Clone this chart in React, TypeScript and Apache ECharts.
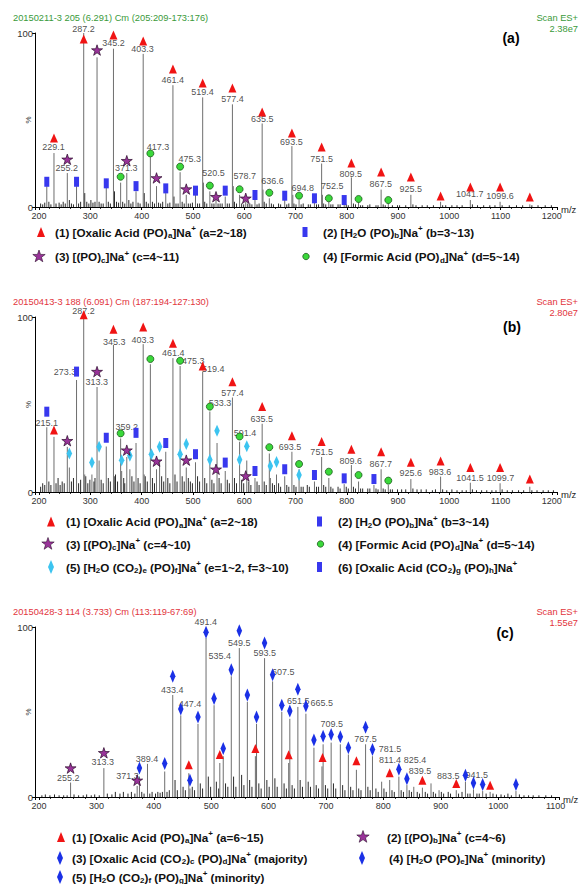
import React, { useEffect, useRef } from 'react';
import * as echarts from 'echarts';

const FONT = '"Liberation Sans", Arial, Helvetica, sans-serif';

// ---------------- Panel (a) ----------------
const PEAKS_A: number[][] = [
  [215, 12], [229, 31], [255, 19.5], [273, 12], [287, 100], [313, 86], [331, 11], [345, 91], [359, 14], [371, 19.5],
  [389, 9], [403, 88], [417, 28.7], [429, 12], [447, 8], [461, 70], [475, 20], [487, 7], [505, 7], [519, 63],
  [520.5, 14], [533, 9], [545, 4], [563, 6], [577, 59], [578.7, 12], [591, 7], [603, 3], [621, 4], [635, 48],
  [636.6, 10], [649, 5], [679, 4], [693, 35], [694.8, 7], [707, 4], [737, 3], [751, 25], [752.5, 7], [765, 3],
  [795, 2.5], [809, 17], [823, 3], [867, 10], [881, 2.5], [925, 7], [983, 3], [1041, 4], [1099, 3], [1157, 1.5],
];
const NOISE_A: number[][] = [
  [203, 2], [207, 1.5], [211, 2.5], [219, 3], [223, 1.5], [233, 2], [239, 2.5], [243, 1.5], [247, 3], [251, 2],
  [259, 4], [263, 2], [267, 1.5], [277, 2], [281, 3], [289, 8], [293, 3], [297, 2], [301, 4], [305, 2.5],
  [309, 3], [317, 3], [321, 2], [325, 2], [335, 3], [339, 2], [347, 9], [351, 3], [355, 2.5], [363, 3],
  [367, 2], [375, 4], [379, 2], [383, 3], [393, 2.5], [397, 2], [405, 8], [409, 3], [413, 2], [421, 3],
  [425, 2], [433, 2.5], [437, 2], [441, 3], [451, 2], [455, 2.5], [463, 6], [467, 2], [471, 2], [479, 3],
  [483, 2], [491, 2], [495, 2], [499, 2.5], [509, 2], [513, 2], [523, 3], [527, 2], [537, 2], [541, 2],
  [549, 2], [553, 2], [557, 2], [567, 2], [571, 2], [581, 3], [585, 2], [595, 2], [599, 1.5], [607, 2],
  [611, 2], [615, 1.5], [625, 1.5], [629, 2], [639, 3], [643, 2], [653, 2], [657, 1.5], [667, 2], [671, 1.5],
  [683, 1.5], [687, 2], [697, 2], [701, 1.5], [711, 1.5], [715, 2], [725, 1.5], [729, 1.5], [741, 1.5], [745, 1.5],
  [755, 2], [759, 1.5], [769, 1.5], [773, 1.5], [783, 1.5], [787, 1.5], [799, 1.5], [803, 1], [813, 2], [817, 1.5],
  [827, 1], [831, 1], [841, 1], [845, 1.5], [857, 1], [861, 1], [871, 1.5], [875, 1], [889, 1], [899, 1],
  [903, 1], [915, 1], [929, 1.5], [935, 1], [947, 1], [957, 1], [969, 1], [987, 1], [993, 1], [1005, 1],
  [1015, 1], [1025, 1], [1045, 1.5], [1055, 1], [1067, 1], [1079, 1], [1089, 1], [1103, 1], [1117, 1], [1131, 1],
  [1143, 1], [1161, 1], [1173, 1], [1187, 1], [1199, 1],
];
const TRI_A: number[][] = [
  [229, 39.7], [287, 96.6], [345, 98.9], [403, 95.4], [461, 79.3], [519, 71.3], [577, 68.4], [635, 54.6], [693, 42.5],
  [751, 34.5], [809, 25.3], [867, 20.1], [925, 17.2], [983, 6.3], [1041, 11.5], [1099, 11.5], [1157, 5.7],
];
const STAR_A: number[][] = [[255, 27.4], [313, 90.2], [371, 26.6], [429, 16.7], [487, 10.3], [545, 5.9], [603, 5]];
const CIRC_A: number[][] = [
  [359, 17.4], [417, 30.8], [475, 23.2], [533, 12.3], [591, 10.2], [649, 8.2], [707, 6.5], [765, 5], [823, 4.6], [881, 4],
];
const RECT_A: number[][] = [
  [215, 14.5], [273, 14.5], [331, 13.6], [389, 12], [447, 10.7], [505, 9.4], [563, 9.4], [621, 6.9], [679, 6.5], [737, 5], [795, 4],
];
const LABELS_A: [string, number, number][] = [
  ['229.1', 228, 34.5], ['255.2', 254, 22.2], ['287.2', 286.5, 102.3], ['345.2', 345, 94], ['371.3', 370, 22.2],
  ['403.3', 401.5, 90.6], ['417.3', 432, 34.5], ['461.4', 460.5, 73], ['475.3', 494, 27.6], ['519.4', 518.5, 66.3],
  ['520.5', 540, 19.4], ['577.4', 577, 61.9], ['578.7', 601, 17.8], ['635.5', 635, 50.4], ['636.6', 655, 14.9],
  ['693.5', 692, 37.5], ['694.8', 714, 10.7], ['751.5', 751, 27.6], ['752.5', 771.5, 12.2], ['809.5', 808, 19],
  ['867.5', 866.5, 13], ['925.5', 925, 10.2], ['1041.7', 1040, 7.3], ['1099.6', 1099, 6.3],
];

// ---------------- Panel (b) ----------------
const PEAKS_B: number[][] = [
  [215, 37], [229, 31.5], [255, 25.8], [259, 14], [273, 64], [287, 100], [289, 10], [303, 10], [313, 60], [317, 18],
  [331, 26], [345, 84], [347, 9], [359, 30.6], [361, 12], [371, 20], [377, 13], [389, 28], [403, 84.5], [405, 10],
  [417, 73], [429, 13], [435, 18], [447, 23], [461, 76.5], [475, 72], [487, 14], [505, 17], [519, 68.8], [533, 46],
  [547, 28], [563, 12], [577, 54], [591, 28.7], [605, 18], [621, 8], [635, 39], [649, 22], [651, 8], [663, 10],
  [679, 9], [693, 23], [707, 13], [737, 6], [751, 20], [765, 8], [795, 4.5], [809, 15.4], [823, 6], [853, 4],
  [867, 13], [881, 4], [925, 7.4], [983, 8.8], [1041, 5.3], [1099, 5], [1157, 3],
];
const NOISE_B: number[][] = [
  [203, 3], [207, 5], [211, 4], [219, 6], [223, 4], [233, 5], [237, 8], [241, 4], [245, 6], [249, 5],
  [263, 6], [267, 8], [277, 5], [281, 7], [291, 9], [295, 5], [299, 7], [307, 6], [309, 8], [321, 7],
  [325, 5], [335, 8], [339, 6], [349, 10], [353, 6], [365, 8], [367, 5], [381, 9], [385, 6], [393, 8],
  [397, 5], [407, 9], [411, 6], [421, 8], [425, 5], [439, 9], [443, 6], [451, 8], [455, 5], [465, 10],
  [469, 6], [479, 9], [483, 6], [491, 8], [495, 6], [499, 5], [509, 9], [513, 6], [523, 8], [527, 5],
  [537, 7], [541, 5], [551, 8], [555, 5], [567, 7], [571, 5], [581, 8], [585, 5], [595, 7], [599, 5],
  [609, 6], [613, 4], [625, 6], [629, 4], [639, 6], [643, 4], [655, 5], [659, 4], [667, 5], [671, 3],
  [683, 4], [687, 3], [697, 4], [701, 3], [711, 3], [715, 3], [723, 4], [727, 3], [741, 3], [745, 3],
  [755, 4], [759, 3], [769, 3], [773, 2], [783, 3], [787, 2], [799, 3], [803, 2], [813, 3], [817, 2],
  [827, 2], [831, 2], [841, 2], [845, 2], [857, 2], [861, 1.5], [871, 2], [875, 1.5], [885, 1.5], [889, 1.5],
  [899, 1.5], [907, 1.5], [915, 1.5], [929, 2], [937, 1.5], [945, 1.5], [955, 1.5], [967, 1], [973, 1.5], [987, 1.5],
  [995, 1], [1005, 1.5], [1015, 1], [1025, 1], [1033, 1], [1045, 1.5], [1053, 1], [1063, 1], [1073, 1], [1083, 1],
  [1091, 1], [1103, 1.5], [1113, 1], [1123, 1], [1135, 1], [1145, 1], [1161, 1], [1171, 1], [1183, 1], [1193, 1], [1203, 1],
];
const TRI_B: number[][] = [
  [229, 35.4], [287, 101.3], [345, 93], [403, 94.3], [461, 85], [519, 72], [577, 63], [635, 48.8], [693, 32.2],
  [751, 28.8], [809, 24.4], [867, 23], [925, 17], [983, 17.7], [1041, 14], [1099, 14], [1157, 7.4],
];
const STAR_B: number[][] = [[255, 29.3], [313, 68.8], [371, 23.9], [429, 17.6], [487, 18.2], [545, 13], [603, 9.2]];
const CIRC_B: number[][] = [
  [359, 33.5], [417, 76], [475, 75], [533, 48.8], [591, 31.7], [649, 25.6], [707, 16], [765, 11.6], [823, 9.7], [881, 6.5],
];
const RECT_B: number[][] = [
  [215, 45.9], [273, 68.8], [331, 31], [389, 33.8], [447, 28], [505, 21.6], [563, 16.8], [621, 12], [679, 13],
  [737, 9.7], [795, 7.8], [853, 7.4],
];
const DIA_B: number[][] = [
  [259, 22], [303, 16.8], [317, 25.8], [361, 18.2], [377, 20.7], [419, 21.6], [435, 25.8], [475, 21.6], [487, 27.5],
  [533, 18.5], [547, 35], [591, 18.5], [605, 26.2], [651, 14.9], [663, 17.2], [707, 9.7],
];
const LABELS_B: [string, number, number][] = [
  ['215.1', 215, 39.6], ['273.3', 250.5, 68.8], ['287.2', 286.5, 103.3], ['313.3', 312.5, 63.1], ['345.3', 346.5, 86],
  ['359.2', 371, 37.3], ['403.3', 402, 87], ['461.4', 461.5, 79.3], ['475.3', 500.5, 75], ['519.4', 539.5, 70.4],
  ['533.3', 553, 50.7], ['577.4', 577, 56.4], ['591.4', 601.5, 33.5], ['635.5', 634, 42], ['693.5', 689.5, 25.9],
  ['751.5', 751, 22.7], ['809.6', 808, 17.9], ['867.7', 866.5, 16], ['925.6', 925, 10.7], ['983.6', 982, 11.2],
  ['1041.5', 1040.5, 7.8], ['1099.7', 1100, 7.8],
];

// ---------------- Panel (c) ----------------
const PEAKS_C: number[][] = [
  [255, 8.5], [313, 17], [371, 6.5], [375, 12], [389, 19.5], [419, 15], [433, 60], [447, 48], [461, 14], [463, 5],
  [477, 43], [491, 93.5], [505, 54], [515, 20], [521, 24], [535, 71], [549, 87.6], [563, 56], [577, 24], [579, 43],
  [593, 81.7], [607, 68], [623, 50], [635, 20], [637, 46], [651, 53], [665, 49], [679, 29], [693, 18], [695, 31],
  [709, 32], [725, 31], [739, 25], [753, 16], [769, 31], [781, 24], [797, 9], [811, 10], [827, 12], [841, 7],
  [853, 6], [868, 5.5], [883, 8], [897, 4], [927, 4], [943, 9], [957, 4.5], [973, 3.5], [986, 3], [1031, 3.5],
];
const NOISE_C: number[][] = [
  [205, 1], [211, 1.5], [219, 1], [227, 1.5], [235, 1], [243, 1], [249, 1], [261, 1.5], [269, 1], [277, 1],
  [283, 1.5], [291, 1], [297, 1.5], [305, 1], [319, 2], [327, 1.5], [333, 3], [341, 2], [347, 3], [355, 2],
  [361, 3], [367, 2], [379, 3], [383, 2], [393, 2], [397, 3], [403, 2], [407, 3], [411, 2.5], [415, 3],
  [423, 3], [427, 4], [437, 10], [441, 4], [451, 6], [455, 4], [467, 6], [471, 4], [481, 8], [485, 5],
  [495, 12], [499, 6], [509, 9], [513, 5], [525, 8], [529, 6], [539, 12], [543, 6], [553, 13], [557, 7],
  [567, 10], [571, 6], [583, 8], [587, 5], [597, 10], [601, 6], [611, 11], [615, 6], [627, 8], [631, 5],
  [641, 7], [645, 5], [655, 10], [659, 6], [669, 9], [673, 6], [683, 7], [687, 5], [699, 7], [703, 5],
  [713, 8], [717, 5], [729, 7], [733, 4], [743, 6], [747, 4], [757, 5], [761, 4], [773, 6], [777, 4],
  [787, 5], [791, 3], [801, 5], [805, 3], [815, 4], [819, 3], [831, 4], [835, 3], [845, 4], [849, 3],
  [859, 3], [863, 2], [873, 3], [877, 2], [887, 3], [891, 2], [901, 3], [905, 2], [913, 3], [917, 2],
  [931, 2], [937, 3], [947, 2], [951, 2], [963, 2], [967, 2], [979, 2], [991, 2], [997, 1.5], [1005, 1.5],
  [1011, 1], [1017, 2], [1023, 1], [1037, 1.5], [1045, 1], [1053, 1], [1061, 1], [1071, 1], [1083, 1], [1093, 1],
];
const TRI_C: number[][] = [
  [461, 19], [515, 25], [577, 28.5], [635, 24.8], [694, 23.2], [753, 21.3], [811, 14.2], [868, 9.8], [927, 7.9], [986, 6.9],
];
const STAR_C: number[][] = [[255, 17], [313, 26], [371, 9.8]];
const DIA_C: number[][] = [
  [375, 17], [419, 19.7], [433, 71], [447, 51.8], [463, 9.8], [477, 47], [491, 96.9], [505, 58], [521, 28.5],
  [535, 74.8], [549, 97.8], [563, 60], [579, 47], [593, 90.6], [607, 71.9], [623, 54], [637, 50.6], [651, 63.4],
  [665, 53.5], [679, 33.5], [695, 35.8], [709, 36.8], [725, 35.4], [739, 29], [769, 41], [781, 28], [827, 16.3],
  [841, 10.8], [943, 12.8], [957, 8.3], [973, 7.3], [1031, 7.3],
];
const LABELS_C: [string, number, number][] = [
  ['255.2', 251, 11.4], ['313.3', 311, 20.7], ['371.3', 354, 12.4], ['389.4', 388, 22.6], ['433.4', 432, 63],
  ['447.4', 463, 54.5], ['491.4', 490.5, 102.8], ['535.4', 515, 82.7], ['549.5', 549, 90.6], ['593.5', 593.5, 84.6],
  ['607.5', 625.5, 73.4], ['651.5', 651.5, 56.5], ['665.5', 692.5, 55.1], ['709.5', 710, 42.7], ['767.5', 769, 33.9],
  ['781.5', 811.5, 28.1], ['811.4', 811.5, 21.7], ['825.4', 855, 22], ['839.5', 864, 15.4], ['883.5', 913, 12.2],
  ['941.5', 962.5, 13.2],
];

// ---------------- Texts ----------------
const HEADERS = [
  '20150211-3 205 (6.291) Cm (205:209-173:176)',
  '20150413-3 188 (6.091) Cm (187:194-127:130)',
  '20150428-3 114 (3.733) Cm (113:119-67:69)',
];
const SCAN_VALUES = ['2.38e7', '2.80e7', '1.55e7'];
const PANEL_TAGS = ['(a)', '(b)', '(c)'];
const X_RANGES = [[192, 1210], [192, 1210], [193, 1106]];

const LEGEND_A = [
  '{n|(1) [Oxalic Acid (PO)}{s|a}{n|]Na}{p|+}{n| (a=2~18)}',
  '{n|(2) [H}{s|2}{n|O (PO)}{s|b}{n|]Na}{p|+}{n| (b=3~13)}',
  '{n|(3) [(PO)}{s|c}{n|]Na}{p|+}{n| (c=4~11)}',
  '{n|(4) [Formic Acid (PO)}{s|d}{n|]Na}{p|+}{n| (d=5~14)}',
];
const LEGEND_B = [
  '{n|(1) [Oxalic Acid (PO)}{s|a}{n|]Na}{p|+}{n| (a=2~18)}',
  '{n|(2) [H}{s|2}{n|O (PO)}{s|b}{n|]Na}{p|+}{n| (b=3~14)}',
  '{n|(3) [(PO)}{s|c}{n|]Na}{p|+}{n| (c=4~10)}',
  '{n|(4) [Formic Acid (PO)}{s|d}{n|]Na}{p|+}{n| (d=5~14)}',
  '{n|(5) [H}{s|2}{n|O (CO}{s|2}{n|)}{s|e}{n| (PO)}{s|f}{n|]Na}{p|+}{n| (e=1~2, f=3~10)}',
  '{n|(6) [Oxalic Acid (CO}{s|2}{n|)}{s|g}{n| (PO)}{s|h}{n|]Na}{p|+}',
];
const LEGEND_C = [
  '{n|(1) [Oxalic Acid (PO)}{s|a}{n|]Na}{p|+}{n| (a=6~15)}',
  '{n|(2) [(PO)}{s|b}{n|]Na}{p|+}{n| (c=4~6)}',
  '{n|(3) [Oxalic Acid (CO}{s|2}{n|)}{s|c}{n| (PO)}{s|d}{n|]Na}{p|+}{n| (majority)}',
  '{n|(4) [H}{s|2}{n|O (PO)}{s|e}{n|]Na}{p|+}{n| (minority)}',
  '{n|(5) [H}{s|2}{n|O (CO}{s|2}{n|)}{s|f}{n| (PO)}{s|g}{n|]Na}{p|+}{n| (minority)}',
];

// ---------------- Styles ----------------
const GREEN_HDR = '#3a9a3a';
const RED_HDR = '#e2343c';
const C_TRI = '#f01414';
const C_RECT = '#3838ee';
const C_STAR = '#993399';
const C_STAR_B = '#2a0a2a';
const C_CIRC = '#3ad83a';
const C_CIRC_B = '#1d5a1d';
const C_DIA_B = '#3cc4f0';
const C_DIA_C = '#1a30e6';
const STAR_PATH =
  'path://M0,-10L2.25,-3.09L9.51,-3.09L3.63,1.18L5.88,8.09L0,3.82L-5.88,8.09L-3.63,1.18L-9.51,-3.09L-2.25,-3.09Z';

function starPts(cx: number, cy: number, R: number, r: number) {
  const pts: number[][] = [];
  for (let i = 0; i < 10; i++) {
    const a = -Math.PI / 2 + (i * Math.PI) / 5;
    const rad = i % 2 === 0 ? R : r;
    pts.push([cx + rad * Math.cos(a), cy + rad * Math.sin(a)]);
  }
  return pts;
}

function icon(kind: string, cx: number, cy: number, color?: string): any {
  if (kind === 'tri')
    return { type: 'polygon', silent: true, shape: { points: [[cx, cy - 5], [cx + 4, cy + 5], [cx - 4, cy + 5]] }, style: { fill: C_TRI } };
  if (kind === 'rect')
    return { type: 'rect', silent: true, shape: { x: cx - 2.5, y: cy - 5, width: 5, height: 10 }, style: { fill: C_RECT } };
  if (kind === 'star')
    return { type: 'polygon', silent: true, shape: { points: starPts(cx, cy, 6.5, 2.6) }, style: { fill: C_STAR, stroke: C_STAR_B, lineWidth: 0.6 } };
  if (kind === 'circ')
    return { type: 'circle', silent: true, shape: { cx, cy, r: 3.2 }, style: { fill: C_CIRC, stroke: C_CIRC_B, lineWidth: 0.8 } };
  return { type: 'polygon', silent: true, shape: { points: [[cx, cy - 7], [cx + 3, cy], [cx, cy + 7], [cx - 3, cy]] }, style: { fill: color || C_DIA_C } };
}

const RICH = {
  n: { fontSize: 11.7, fontWeight: 'bold', fontFamily: FONT, fill: '#111', color: '#111', lineHeight: 15 },
  s: { fontSize: 8, fontWeight: 'bold', fontFamily: FONT, fill: '#111', color: '#111', verticalAlign: 'bottom' },
  p: { fontSize: 8, fontWeight: 'bold', fontFamily: FONT, fill: '#111', color: '#111', verticalAlign: 'top' },
};

function legendText(x: number, y: number, text: string): any {
  return { type: 'text', silent: true, x, y, style: { text, rich: RICH, align: 'left', verticalAlign: 'middle', textAlign: 'left', textVerticalAlign: 'middle' } };
}

function plainText(x: number, y: number, text: string, size: number, fill: string, align: string, bold?: boolean, rotation?: number): any {
  return {
    type: 'text', silent: true, x, y, rotation: rotation || 0,
    style: { text, fill, fontSize: size, fontFamily: FONT, fontWeight: bold ? 'bold' : 'normal', align, verticalAlign: 'middle', textAlign: align, textVerticalAlign: 'middle' },
  };
}

function buildOption(): any {
  const gridBoxes = [
    { left: 35, top: 33, width: 522, height: 174 },
    { left: 35, top: 317, width: 522, height: 175 },
    { left: 35, top: 627, width: 524, height: 170 },
  ];
  const grids = gridBoxes.map((g) => ({ ...g, containLabel: false, outerBoundsMode: 'none' }));

  const xAxis = X_RANGES.map(([min, max], i) => ({
    type: 'value', gridIndex: i, min, max, splitNumber: 10,
    axisLine: { show: true, onZero: false, lineStyle: { color: '#000', width: 1 } },
    axisTick: { show: true, length: 3, lineStyle: { color: '#000', width: 1 } },
    minorTick: { show: true, splitNumber: 5, length: 2, lineStyle: { color: '#000', width: 0.8 } },
    axisLabel: {
      fontSize: 9, color: '#333', margin: 4, fontFamily: FONT,
      formatter: (v: number) => (Math.abs(v % 100) < 1e-6 ? String(v) : ''),
    },
    splitLine: { show: false }, minorSplitLine: { show: false },
  }));

  const yAxis = [0, 1, 2].map((i) => ({
    type: 'value', gridIndex: i, min: 0, max: 100, interval: 100,
    axisLine: { show: true, lineStyle: { color: '#000', width: 1 } },
    axisTick: { show: true, length: 3, lineStyle: { color: '#000', width: 1 } },
    axisLabel: { fontSize: 9.5, color: '#333', margin: 2, fontFamily: FONT },
    splitLine: { show: false },
  }));

  const peakSeries = (idx: number, data: number[][], color: string) => ({
    type: 'custom', xAxisIndex: idx, yAxisIndex: idx, data, encode: { x: 0, y: 1 }, z: 1, silent: true,
    renderItem: (_p: any, api: any) => {
      const x = api.value(0);
      const y = api.value(1);
      const a = api.coord([x, 0]);
      const b = api.coord([x, y]);
      return { type: 'line', shape: { x1: a[0], y1: a[1], x2: b[0], y2: b[1] }, style: { stroke: color, lineWidth: 1 } };
    },
  });

  const markSeries = (idx: number, data: number[][], symbol: string, size: any, color: string, border?: string, bw?: number) => ({
    type: 'scatter', xAxisIndex: idx, yAxisIndex: idx, data, symbol, symbolSize: size, clip: false, z: 4, silent: true,
    itemStyle: { color, borderColor: border || color, borderWidth: bw || 0, opacity: 1 },
    emphasis: { disabled: true },
  });

  const labelSeries = (idx: number, labels: [string, number, number][]) => ({
    type: 'scatter', xAxisIndex: idx, yAxisIndex: idx, symbolSize: 1, clip: false, z: 3, silent: true,
    data: labels.map(([t, x, y]) => ({ name: t, value: [x, y] })),
    itemStyle: { color: 'rgba(0,0,0,0)' },
    label: { show: true, position: 'inside', formatter: '{b}', fontSize: 9, color: '#222', fontFamily: FONT },
    emphasis: { disabled: true },
  });

  const series: any[] = [
    peakSeries(0, NOISE_A, '#2a2a2a'), peakSeries(0, PEAKS_A, '#6e6e6e'),
    labelSeries(0, LABELS_A),
    markSeries(0, RECT_A, 'rect', [5, 10], C_RECT),
    markSeries(0, CIRC_A, 'circle', 7, C_CIRC, C_CIRC_B, 0.8),
    markSeries(0, STAR_A, STAR_PATH, [11, 10.5], C_STAR, C_STAR_B, 0.7),
    markSeries(0, TRI_A, 'triangle', [8, 9], C_TRI),

    peakSeries(1, NOISE_B, '#2a2a2a'), peakSeries(1, PEAKS_B, '#6e6e6e'),
    labelSeries(1, LABELS_B),
    markSeries(1, DIA_B, 'diamond', [5.5, 12], C_DIA_B),
    markSeries(1, RECT_B, 'rect', [5, 10], C_RECT),
    markSeries(1, CIRC_B, 'circle', 7, C_CIRC, C_CIRC_B, 0.8),
    markSeries(1, STAR_B, STAR_PATH, [11, 10.5], C_STAR, C_STAR_B, 0.7),
    markSeries(1, TRI_B, 'triangle', [8, 9], C_TRI),

    peakSeries(2, NOISE_C, '#2a2a2a'), peakSeries(2, PEAKS_C, '#6e6e6e'),
    labelSeries(2, LABELS_C),
    markSeries(2, DIA_C, 'diamond', [5.5, 13], C_DIA_C),
    markSeries(2, STAR_C, STAR_PATH, [11, 10.5], C_STAR, C_STAR_B, 0.7),
    markSeries(2, TRI_C, 'triangle', [8, 9], C_TRI),
  ];

  const G: any[] = [];
  const hdrY = [18, 302, 612];
  const hdrCol = [GREEN_HDR, RED_HDR, RED_HDR];
  const tagPos = [[511, 38], [512, 327], [505, 633]];
  for (let i = 0; i < 3; i++) {
    const g = gridBoxes[i];
    G.push(plainText(13, hdrY[i], HEADERS[i], 9.3, hdrCol[i], 'left'));
    G.push(plainText(578, hdrY[i], 'Scan ES+', 9.3, hdrCol[i], 'right'));
    G.push(plainText(578, hdrY[i] + 11, SCAN_VALUES[i], 9.3, hdrCol[i], 'right'));
    G.push(plainText(tagPos[i][0], tagPos[i][1], PANEL_TAGS[i], 14, '#000', 'center', true));
    // axis titles
    G.push(plainText(g.left + g.width + 4, g.top + g.height + 2, 'm/z', 9.5, '#222', 'left'));
    G.push(plainText(g.left - 7, g.top + g.height / 2, '%', 8, '#333', 'center', false, Math.PI / 2));
  }
  // legend (a)
  G.push(icon('tri', 41, 232), legendText(55, 232, LEGEND_A[0]));
  G.push(icon('rect', 305, 232), legendText(323, 232, LEGEND_A[1]));
  G.push(icon('star', 39, 256.5), legendText(55, 256.5, LEGEND_A[2]));
  G.push(icon('circ', 306, 256.5), legendText(323, 256.5, LEGEND_A[3]));
  // legend (b)
  G.push(icon('tri', 51, 521.5), legendText(66, 521.5, LEGEND_B[0]));
  G.push(icon('rect', 319.5, 521.5), legendText(338, 521.5, LEGEND_B[1]));
  G.push(icon('star', 48, 544), legendText(66, 544, LEGEND_B[2]));
  G.push(icon('circ', 320.5, 544), legendText(338, 544, LEGEND_B[3]));
  G.push(icon('dia', 51, 567, C_DIA_B), legendText(66, 567, LEGEND_B[4]));
  G.push(icon('rect', 319.5, 567), legendText(338, 567, LEGEND_B[5]));
  // legend (c)
  G.push(icon('tri', 61, 837), legendText(72, 837, LEGEND_C[0]));
  G.push(icon('star', 363, 837), legendText(387, 837, LEGEND_C[1]));
  G.push(icon('dia', 60, 858, C_DIA_C), legendText(72, 858, LEGEND_C[2]));
  G.push(icon('dia', 362, 858, C_DIA_C), legendText(389, 858, LEGEND_C[3]));
  G.push(icon('dia', 60, 877, C_DIA_C), legendText(72, 877, LEGEND_C[4]));

  return {
    animation: false,
    backgroundColor: '#fff',
    grid: grids,
    xAxis,
    yAxis,
    series,
    graphic: { elements: G },
  };
}

export default function App() {
  const ref = useRef<HTMLDivElement>(null);
  useEffect(() => {
    document.body.style.margin = '0';
    const chart = echarts.init(ref.current as HTMLDivElement, null, { renderer: 'svg' });
    chart.setOption(buildOption());
    return () => chart.dispose();
  }, []);
  return <div ref={ref} style={{ width: 579, height: 884 }} />;
}
